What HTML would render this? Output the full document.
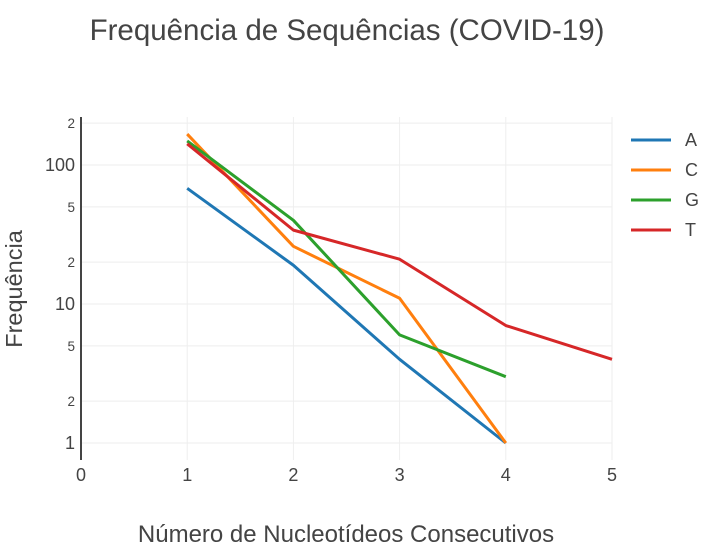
<!DOCTYPE html>
<html><head><meta charset="utf-8"><style>
body{margin:0;background:#fff;font-family:"Liberation Sans",sans-serif;}
svg text{font-family:"Liberation Sans",sans-serif;fill:#444;}
</style></head><body>
<svg id="chart" width="712" height="552">
<text x="347" y="40" text-anchor="middle" font-size="29.5">Frequência de Sequências (COVID-19)</text>
<text x="346" y="542" text-anchor="middle" font-size="24">Número de Nucleotídeos Consecutivos</text>
<text x="22" y="289" text-anchor="middle" font-size="23.5" transform="rotate(-90 22 289)">Frequência</text>
<g id="grid"></g><g id="series"></g><g id="legend"></g>
</svg>
<script>
const xTicks=[0,1,2,3,4,5];
const yTicks=[1,2,5,10,20,50,100,200];
const yTickLabels=["1","2","5","10","2","5","100","2"];
const seriesNames=["A","C","G","T"];
const seriesColors=["#1f77b4","#ff7f0e","#2ca02c","#d62728"];
const xA=[1,2,3,4], valsA=[68,19,4,1];
const xC=[1,2,3,4], valsC=[167,26,11,1];
const xG=[1,2,3,4], valsG=[149,40,6,3];
const xT=[1,2,3,4,5], valsT=[142,34,21,7,4];
const NS="http://www.w3.org/2000/svg";
const L=81,R=612,T=117,B=460;
const xs=v=>L+(v-0)/5*(R-L);
const ys=v=>443-Math.log10(v)*139;
const grid=document.getElementById('grid');
function mk(t,a,p){const e=document.createElementNS(NS,t);for(const k in a)e.setAttribute(k,a[k]);p.appendChild(e);return e;}
yTicks.forEach((v,i)=>{
 const l=mk('line',{x1:L,x2:R,y1:ys(v),y2:ys(v),stroke:'#eee','stroke-width':1},grid);
 
 
 const big=(v===1||v===10||v===100);
 const t=mk('text',{x:75,y:ys(v)+(big?6:5),'text-anchor':'end','font-size':big?18:13.5},grid);
 t.textContent=yTickLabels[i];
 
 
});
xTicks.forEach(v=>{
 if(v>0){const l=mk('line',{x1:xs(v),x2:xs(v),y1:T,y2:B,stroke:'#eee','stroke-width':1},grid);
 
 }
 const t=mk('text',{x:xs(v),y:481,'text-anchor':'middle','font-size':18},grid);
 t.textContent=v;
 
 
});
const zl=mk('line',{x1:L,x2:L,y1:T,y2:B,stroke:'#444','stroke-width':2},grid);


const S=document.getElementById('series');
const data=[[xA,valsA],[xC,valsC],[xG,valsG],[xT,valsT]];
data.forEach((d,i)=>{
 const pts=d[0].map((x,j)=>xs(x)+','+ys(d[1][j])).join(' ');
 const p=mk('polyline',{points:pts,fill:'none',stroke:seriesColors[i],'stroke-width':3,'stroke-linejoin':'round'},S);
 
 
});
const G=document.getElementById('legend');
seriesNames.forEach((n,i)=>{
 const y=140+i*30;
 const l=mk('line',{x1:631,x2:671,y1:y,y2:y,stroke:seriesColors[i],'stroke-width':3},G);
 
 
 const t=mk('text',{x:685,y:y+6,'font-size':18},G);
 t.textContent=n;
 
 
});
</script>
</body></html>
